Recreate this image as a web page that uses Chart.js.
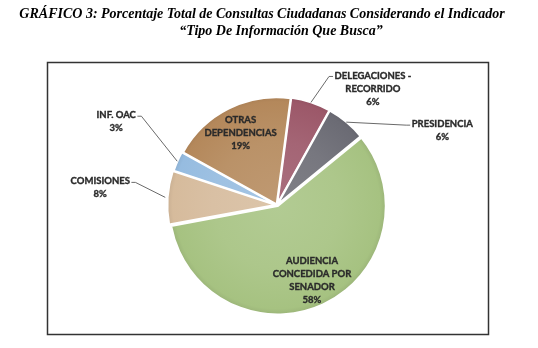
<!DOCTYPE html>
<html>
<head>
<meta charset="utf-8">
<script src="https://cdn.jsdelivr.net/npm/chart.js@4.4.1/dist/chart.umd.min.js"></script>
<style>
  html, body { margin: 0; padding: 0; background: #fff; }
</style>
</head>
<body>
<canvas id="grafico" width="538" height="348"></canvas>
<script>
// datos
const titulo = [
  'GRÁFICO 3: Porcentaje Total de Consultas Ciudadanas Considerando el Indicador',
  '“Tipo De Información Que Busca”'
];
const categorias = ['DELEGACIONES - RECORRIDO', 'PRESIDENCIA', 'AUDIENCIA CONCEDIDA POR SENADOR', 'COMISIONES', 'INF. OAC', 'OTRAS DEPENDENCIAS'];
const porcentajes = [6, 6, 58, 8, 3, 19];
const etiquetas = [
  ['DELEGACIONES -', 'RECORRIDO'],
  ['PRESIDENCIA'],
  ['AUDIENCIA', 'CONCEDIDA POR', 'SENADOR'],
  ['COMISIONES'],
  ['INF. OAC'],
  ['OTRAS', 'DEPENDENCIAS']
];
const colores = ['#9c5869', '#6b6b74', '#a6c281', '#d6bb9c', '#96bce0', '#b4885b'];

// donde va cada etiqueta: dentro del sector o fuera con linea guia (dx, dy desde el borde)
const dentro = [false, false, true, false, false, true];
const guia = [[62, -27], [96, 2], null, [-65, -16], [-61, -46], null];

const FUENTE = 'bold 9.5px Lato';

function mezcla(hex, k) {
  const n = parseInt(hex.slice(1), 16);
  let r = n >> 16, g = (n >> 8) & 255, b = n & 255;
  const t = k > 0 ? 255 : 0, a = Math.abs(k);
  r = Math.round(r + (t - r) * a); g = Math.round(g + (t - g) * a); b = Math.round(b + (t - b) * a);
  return `rgb(${r},${g},${b})`;
}

function relleno(ctx) {
  const base = colores[ctx.dataIndex];
  const chart = ctx.chart;
  const area = chart.chartArea;
  if (!area) return base;
  const cx = (area.left + area.right) / 2, cy = (area.top + area.bottom) / 2;
  const g = chart.ctx.createRadialGradient(cx, cy, 0, cx, cy, 114);
  g.addColorStop(0, mezcla(base, 0.14));
  g.addColorStop(0.55, mezcla(base, 0.08));
  g.addColorStop(0.9, base);
  g.addColorStop(0.96, mezcla(base, -0.08));
  g.addColorStop(1, mezcla(base, 0.25));
  return g;
}

const marco = {
  id: 'marco',
  beforeDraw(chart) {
    const c = chart.ctx;
    c.save();
    c.fillStyle = '#fff';
    c.fillRect(0, 0, chart.width, chart.height);
    c.strokeStyle = '#333';
    c.lineWidth = 1.5;
    c.strokeRect(47.5, 62.5, 441, 272);
    c.fillStyle = '#000';
    c.font = 'italic bold 14px "Liberation Serif"';
    c.textAlign = 'center';
    c.textBaseline = 'middle';
    c.fillText(titulo[0], 262, 14);
    c.fillText(titulo[1], 281, 31);
    c.restore();
  }
};

const rotulos = {
  id: 'rotulos',
  afterDatasetsDraw(chart) {
    const c = chart.ctx;
    const meta = chart.getDatasetMeta(0);
    c.save();
    c.font = FUENTE;
    c.fillStyle = '#2a2a2a';
    c.textAlign = 'center';
    c.textBaseline = 'middle';
    const alto = 13;
    const texto = (t, x, y) => {
      c.lineWidth = 0.35;
      c.strokeStyle = '#2a2a2a';
      c.strokeText(t, x, y);
      c.fillText(t, x, y);
    };
    meta.data.forEach((arc, i) => {
      const p = arc.getProps(['x', 'y', 'startAngle', 'endAngle', 'outerRadius'], true);
      const off = arc.options.offset || 0;
      const mid = (p.startAngle + p.endAngle) / 2;
      const cos = Math.cos(mid), sin = Math.sin(mid);
      const lineas = etiquetas[i].concat(porcentajes[i] + '%');
      if (dentro[i]) {
        const r = p.outerRadius * 0.73 + off;
        const lx = p.x + cos * r, ly = p.y + sin * r;
        const y0 = ly - (lineas.length - 1) * alto / 2;
        lineas.forEach((t, k) => texto(t, lx, y0 + k * alto));
      } else {
        const ex = p.x + cos * (p.outerRadius + off - 2);
        const ey = p.y + sin * (p.outerRadius + off - 2);
        const [dx, dy] = guia[i];
        const lx = ex + dx, ly = ey + dy;
        const dir = dx > 0 ? 1 : -1;
        const ancho = c.measureText(lineas[0]).width;
        const lado = lx - dir * (ancho / 2 + 1.5);
        c.beginPath();
        c.moveTo(ex, ey);
        c.lineTo(lado - dir * 4, ly + 1);
        c.lineTo(lado, ly + 1);
        c.lineWidth = 1;
        c.strokeStyle = '#6a6a6a';
        c.stroke();
        lineas.forEach((t, k) => texto(t, lx, ly + k * alto));
      }
    });
    c.restore();
  }
};

new Chart(document.getElementById('grafico'), {
  type: 'pie',
  data: {
    labels: categorias,
    datasets: [{
      data: porcentajes,
      backgroundColor: relleno,
      borderColor: '#ffffff',
      borderWidth: 2,
      offset: [3, 3, 5, 7, 4, 3],
      hoverOffset: 0
    }]
  },
  options: {
    responsive: false,
    animation: false,
    rotation: 7.5,
    radius: 107,
    layout: { padding: { left: 60, right: 44, top: 80, bottom: 18 } },
    plugins: {
      legend: { display: false },
      title: { display: false },
      tooltip: { enabled: false }
    }
  },
  plugins: [marco, rotulos]
});
</script>
</body>
</html>
